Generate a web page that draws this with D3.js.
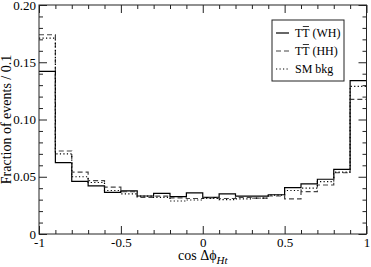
<!DOCTYPE html>
<html lang="en">
<head>
    <meta charset="UTF-8">
    <script src="https://d3js.org/d3.v7.min.js"></script>
    <title>cos dphi Ht</title>
    <style>
        body { margin: 0; background: #fff; }
    </style>
</head>
<body>
<script>
    // Bin starts (width 0.1), last edge closes the histogram
    const binStarts = [-1, -0.9, -0.8, -0.7, -0.6, -0.5, -0.4, -0.3, -0.2, -0.1,
        0, 0.1, 0.2, 0.3, 0.4, 0.5, 0.6, 0.7, 0.8, 0.9];
    const lastEdge = 1;

    const ttWH = [0.142, 0.0623, 0.046, 0.042, 0.0364, 0.0376, 0.0332, 0.0355, 0.0326, 0.036,
        0.032, 0.035, 0.033, 0.033, 0.0343, 0.0405, 0.0437, 0.0478, 0.0565, 0.134];
    const ttHH = [0.174, 0.0725, 0.054, 0.0466, 0.041, 0.037, 0.032, 0.033, 0.0315, 0.031,
        0.0315, 0.031, 0.032, 0.0314, 0.0332, 0.0306, 0.037, 0.0428, 0.0535, 0.1176];
    const smBkg = [0.171, 0.070, 0.050, 0.045, 0.038, 0.035, 0.033, 0.032, 0.0288, 0.0297,
        0.031, 0.030, 0.0306, 0.0314, 0.034, 0.038, 0.040, 0.0457, 0.054, 0.129];

    const xMajor = [-1, -0.5, 0, 0.5, 1];
    const xLabels = ["-1", "-0.5", "0", "0.5", "1"];
    const yMajor = [0, 0.05, 0.10, 0.15, 0.20];
    const yLabels = ["0", "0.05", "0.10", "0.15", "0.20"];

    const FONT = "'Liberation Serif', 'Times New Roman', 'DejaVu Serif', serif";
    const W = 371, H = 267;
    const margin = {top: 5, right: 4.5, bottom: 33, left: 39};
    const width = W - margin.left - margin.right;
    const height = H - margin.top - margin.bottom;

    const svg = d3.select("body").append("svg")
        .attr("width", W)
        .attr("height", H)
        .style("font-family", FONT);
    const g = svg.append("g")
        .attr("transform", "translate(" + margin.left + "," + margin.top + ")");

    const x = d3.scaleLinear().domain([-1, 1]).range([0, width]);
    const y = d3.scaleLinear().domain([0, 0.2]).range([height, 0]);

    const xMinor = d3.range(-10, 11).map(i => i / 10).filter(v => Math.abs(v * 2 - Math.round(v * 2)) > 1e-6);
    const yMinor = d3.range(0, 21).map(i => i / 100).filter(v => Math.abs(v * 20 - Math.round(v * 20)) > 1e-6);

    const axisColor = "#222";
    const style = sel => {
        sel.attr("font-family", FONT).attr("font-size", 13);
        sel.select(".domain").remove();
        sel.selectAll("line").attr("stroke", axisColor);
        sel.selectAll("text").attr("fill", "#000").style("font-family", FONT).style("font-size", "13px");
    };

    // bottom
    g.append("g").attr("transform", "translate(0," + height + ")")
        .call(d3.axisBottom(x).tickValues(xMajor).tickFormat((d, i) => xLabels[i]).tickSize(-8).tickPadding(4))
        .call(style);
    g.append("g").attr("transform", "translate(0," + height + ")")
        .call(d3.axisBottom(x).tickValues(xMinor).tickFormat("").tickSize(-4))
        .call(style);
    // top
    g.append("g")
        .call(d3.axisTop(x).tickValues(xMajor).tickFormat("").tickSize(-8))
        .call(style);
    g.append("g")
        .call(d3.axisTop(x).tickValues(xMinor).tickFormat("").tickSize(-4))
        .call(style);
    // left
    g.append("g")
        .call(d3.axisLeft(y).tickValues(yMajor).tickFormat((d, i) => yLabels[i]).tickSize(-8).tickPadding(3))
        .call(style);
    g.append("g")
        .call(d3.axisLeft(y).tickValues(yMinor).tickFormat("").tickSize(-4))
        .call(style);
    // right
    g.append("g").attr("transform", "translate(" + width + ",0)")
        .call(d3.axisRight(y).tickValues(yMajor).tickFormat("").tickSize(-8))
        .call(style);
    g.append("g").attr("transform", "translate(" + width + ",0)")
        .call(d3.axisRight(y).tickValues(yMinor).tickFormat("").tickSize(-4))
        .call(style);

    // Histograms
    const series = [
        {name: "WH", values: ttWH, dash: null, color: "#000", sw: 1.2},
        {name: "HH", values: ttHH, dash: "5,3", color: "#444", sw: 1.2},
        {name: "SM", values: smBkg, dash: "1.2,2.3", color: "#000", sw: 1.2}
    ];
    const line = d3.line().x(d => x(d[0])).y(d => y(d[1])).curve(d3.curveStepAfter);
    series.forEach(s => {
        const pts = binStarts.map((b, i) => [b, s.values[i]]);
        pts.push([lastEdge, s.values[s.values.length - 1]]);
        g.append("path")
            .datum(pts)
            .attr("fill", "none")
            .attr("stroke", s.color)
            .attr("stroke-width", s.sw)
            .attr("stroke-dasharray", s.dash)
            .attr("d", line);
    });

    // Frame
    g.append("rect")
        .attr("x", 0).attr("y", 0)
        .attr("width", width).attr("height", height)
        .attr("fill", "none")
        .attr("stroke", axisColor)
        .attr("stroke-width", 1);

    // Axis titles
    svg.append("text")
        .attr("transform", "translate(11," + (margin.top + height / 2) + ") rotate(-90)")
        .attr("text-anchor", "middle")
        .style("font-size", "14px")
        .text("Fraction of events / 0.1");

    const xt = svg.append("text")
        .attr("x", margin.left + x(0))
        .attr("y", 260)
        .attr("text-anchor", "middle")
        .style("font-size", "14px");
    xt.append("tspan").text("cos Δϕ");
    xt.append("tspan").attr("dy", 4).style("font-size", "11px").style("font-style", "italic").text("Ht");

    // Legend
    const lg = svg.append("g").attr("transform", "translate(272,20)");
    lg.append("rect")
        .attr("width", 72).attr("height", 61)
        .attr("fill", "#fff")
        .attr("stroke", axisColor)
        .attr("stroke-width", 1);
    const legendItems = [
        {label: "TT (WH)", bar: true, s: series[0]},
        {label: "TT (HH)", bar: true, s: series[1]},
        {label: "SM bkg", bar: false, s: series[2]}
    ];
    legendItems.forEach((it, i) => {
        const yy = 13 + i * 18;
        lg.append("line")
            .attr("x1", 4).attr("x2", 17)
            .attr("y1", yy).attr("y2", yy)
            .attr("stroke", it.s.color)
            .attr("stroke-width", it.s.sw)
            .attr("stroke-dasharray", it.s.dash);
        const t = lg.append("text")
            .attr("x", 23).attr("y", yy + 4)
            .style("font-size", "12px")
            .text(it.label);
        if (it.bar) {
            // overline over the second T (anti-top)
            const n = t.node();
            const x0 = n.getStartPositionOfChar(1).x, x1 = n.getEndPositionOfChar(1).x;
            lg.append("line")
                .attr("x1", x0 + 0.5).attr("x2", x1 - 0.5)
                .attr("y1", yy - 6.5).attr("y2", yy - 6.5)
                .attr("stroke", "#000").attr("stroke-width", 0.8);
        }
    });
</script>
</body>
</html>
